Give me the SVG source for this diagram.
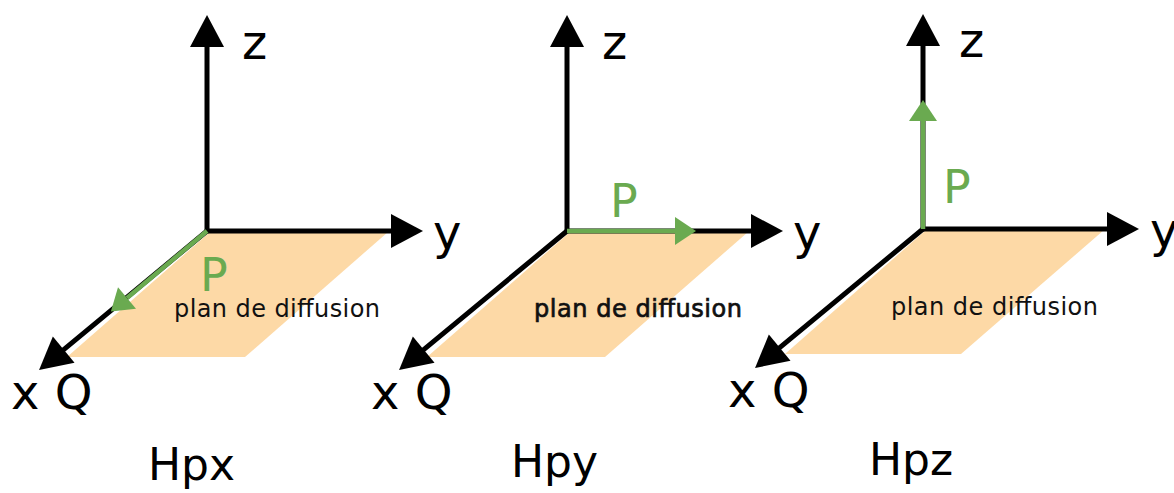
<svg xmlns="http://www.w3.org/2000/svg" width="1174" height="493" viewBox="0 0 1174 493">
<style>
.ax{stroke:#000;stroke-width:5;fill:none;stroke-linecap:round;stroke-linejoin:miter;marker-end:url(#ab)}
.gr{stroke:#6aaa50;stroke-width:4.5;fill:none;stroke-linecap:butt;marker-end:url(#ag)}
.pl{fill:#fdd9a6}
.lb{font-family:"DejaVu Sans",sans-serif;font-size:48px;fill:#000}
.pp{font-family:"DejaVu Sans",sans-serif;font-size:46px;fill:#6aaa50}
.pd{font-family:"DejaVu Sans",sans-serif;font-size:24px;fill:#111}
.pdb{font-family:"DejaVu Sans",sans-serif;font-size:24px;fill:#111;stroke:#111;stroke-width:0.7}
.tt{font-family:"DejaVu Sans",sans-serif;font-size:44px;fill:#000}
</style>
<defs>
<marker id="ab" markerUnits="userSpaceOnUse" markerWidth="34" markerHeight="36" refX="0" refY="17" orient="auto" overflow="visible">
<path d="M0,0 L32,17 L0,34 Z" fill="#000"/>
</marker>
<marker id="ag" markerUnits="userSpaceOnUse" markerWidth="22" markerHeight="30" refX="0" refY="14" orient="auto" overflow="visible">
<path d="M0,0 L21,14 L0,28 Z" fill="#6aaa50"/>
</marker>
</defs>
<rect width="1174" height="493" fill="#fff"/>

<g id="panel-hpx">
<polygon class="pl" points="210,232 388,232 245,357 67,357"/>
<text class="pd" x="174" y="317" textLength="206" lengthAdjust="spacing">plan de diffusion</text>
<text class="pp" x="200" y="291">P</text>
<text class="lb" x="242" y="59">z</text>
<text class="lb" x="433" y="249">y</text>
<text class="lb" x="11" y="409">x Q</text>
<text class="tt" x="148" y="480">Hpx</text>
</g>

<g id="panel-hpy">
<polygon class="pl" points="570,232 748,232 605,357 427,357"/>
<text class="pdb" x="534" y="317" textLength="208" lengthAdjust="spacing">plan de diffusion</text>
<text class="pp" x="610" y="217">P</text>
<text class="lb" x="602" y="59">z</text>
<text class="lb" x="793" y="249">y</text>
<text class="lb" x="371" y="409">x Q</text>
<text class="tt" x="511" y="477">Hpy</text>
</g>

<g id="panel-hpz">
<polygon class="pl" points="926,230 1104,230 961,354 785,354"/>
<text class="pd" x="891" y="315" textLength="207" lengthAdjust="spacing">plan de diffusion</text>
<text class="pp" x="943" y="203">P</text>
<text class="lb" x="959" y="57">z</text>
<text class="lb" x="1150" y="247">y</text>
<text class="lb" x="728" y="407">x Q</text>
<text class="tt" x="869" y="475">Hpz</text>
</g>

<g id="connectors">
<line class="ax" x1="207" y1="231" x2="207" y2="47"/>
<line class="ax" x1="207" y1="231" x2="391" y2="231"/>
<line class="ax" x1="207" y1="231" x2="63.7" y2="349.6"/>
<line class="gr" x1="207" y1="231" x2="127" y2="298"/>
<line class="ax" x1="567" y1="231" x2="567" y2="47"/>
<line class="ax" x1="567" y1="231" x2="751" y2="231"/>
<line class="ax" x1="567" y1="231" x2="423.7" y2="349.6"/>
<line class="gr" x1="567" y1="231" x2="675" y2="231"/>
<line class="ax" x1="923" y1="229" x2="923" y2="46"/>
<line class="ax" x1="923" y1="229" x2="1107" y2="229"/>
<line class="ax" x1="923" y1="229" x2="779.7" y2="347.6"/>
<line class="gr" x1="923" y1="229" x2="923" y2="121"/>
</g>
</svg>
